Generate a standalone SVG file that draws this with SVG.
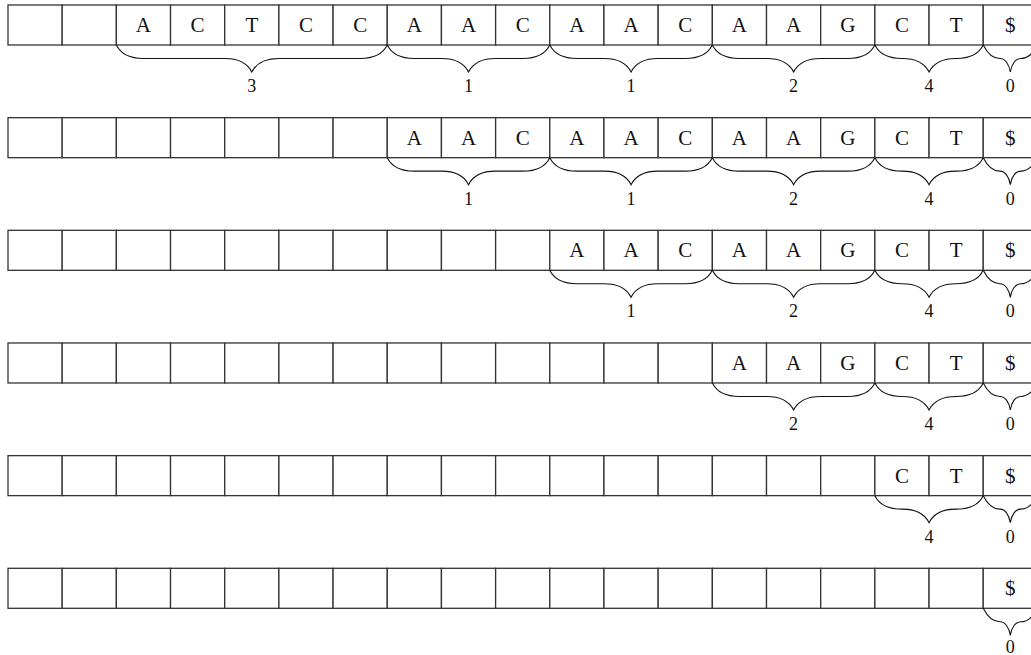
<svg xmlns="http://www.w3.org/2000/svg" xmlns:xlink="http://www.w3.org/1999/xlink" width="1031" height="655" viewBox="0 0 1031 655">
<style>
.cell{fill:#fff;stroke:#333;stroke-width:1.3}
.ch{font-family:"Liberation Serif",serif;font-size:21px;fill:#111;text-anchor:middle}
.num{font-family:"Liberation Serif",serif;font-size:18px;fill:#111;text-anchor:middle}
.br{fill:none;stroke:#111;stroke-width:1.1}
</style>
<defs>
<g id="cells">
<rect class="cell" x="8" y="5" width="54.18" height="40"/>
<rect class="cell" x="62.18" y="5" width="54.18" height="40"/>
<rect class="cell" x="116.36" y="5" width="54.18" height="40"/>
<rect class="cell" x="170.54" y="5" width="54.18" height="40"/>
<rect class="cell" x="224.72" y="5" width="54.18" height="40"/>
<rect class="cell" x="278.9" y="5" width="54.18" height="40"/>
<rect class="cell" x="333.08" y="5" width="54.18" height="40"/>
<rect class="cell" x="387.26" y="5" width="54.18" height="40"/>
<rect class="cell" x="441.44" y="5" width="54.18" height="40"/>
<rect class="cell" x="495.62" y="5" width="54.18" height="40"/>
<rect class="cell" x="549.8" y="5" width="54.18" height="40"/>
<rect class="cell" x="603.98" y="5" width="54.18" height="40"/>
<rect class="cell" x="658.16" y="5" width="54.18" height="40"/>
<rect class="cell" x="712.34" y="5" width="54.18" height="40"/>
<rect class="cell" x="766.52" y="5" width="54.18" height="40"/>
<rect class="cell" x="820.7" y="5" width="54.18" height="40"/>
<rect class="cell" x="874.88" y="5" width="54.18" height="40"/>
<rect class="cell" x="929.06" y="5" width="54.18" height="40"/>
<rect class="cell" x="983.24" y="5" width="54.18" height="40"/>
</g>
<path id="b2" class="br" d="M116.36,45 C120.41,53.1 129.86,58.5 143.36,58.5 L224.81,58.5 C238.31,58.5 247.76,63.9 251.81,72 C255.86,63.9 265.31,58.5 278.81,58.5 L360.26,58.5 C373.76,58.5 383.21,53.1 387.26,45"/>
<path id="b7" class="br" d="M387.26,45 C391.31,53.1 400.76,58.5 414.26,58.5 L441.53,58.5 C455.03,58.5 464.48,63.9 468.53,72 C472.58,63.9 482.03,58.5 495.53,58.5 L522.8,58.5 C536.3,58.5 545.75,53.1 549.8,45"/>
<path id="b10" class="br" d="M549.8,45 C553.85,53.1 563.3,58.5 576.8,58.5 L604.07,58.5 C617.57,58.5 627.02,63.9 631.07,72 C635.12,63.9 644.57,58.5 658.07,58.5 L685.34,58.5 C698.84,58.5 708.29,53.1 712.34,45"/>
<path id="b13" class="br" d="M712.34,45 C716.39,53.1 725.84,58.5 739.34,58.5 L766.61,58.5 C780.11,58.5 789.56,63.9 793.61,72 C797.66,63.9 807.11,58.5 820.61,58.5 L847.88,58.5 C861.38,58.5 870.83,53.1 874.88,45"/>
<path id="b16" class="br" d="M874.88,45 C878.93,53.1 888.38,58.5 901.88,58.5 L902.06,58.5 C915.56,58.5 925.01,63.9 929.06,72 C933.11,63.9 942.56,58.5 956.06,58.5 L956.24,58.5 C969.74,58.5 979.19,53.1 983.24,45"/>
<path id="b18" class="br" d="M983.24,45 C987.29,53.1 993,58.5 1000,58.5 C1005,58.5 1009,63.9 1010.33,72 C1011.6,63.9 1015.6,58.5 1020.6,58.5 C1027.6,58.5 1033.4,53.1 1037.42,45"/>
</defs>

<g id="row1">
<use xlink:href="#cells"/>
<text class="ch" x="143.45" y="32">A</text><text class="ch" x="197.63" y="32">C</text><text class="ch" x="251.81" y="32">T</text><text class="ch" x="305.99" y="32">C</text><text class="ch" x="360.17" y="32">C</text><text class="ch" x="414.35" y="32">A</text><text class="ch" x="468.53" y="32">A</text><text class="ch" x="522.71" y="32">C</text><text class="ch" x="576.89" y="32">A</text><text class="ch" x="631.07" y="32">A</text><text class="ch" x="685.25" y="32">C</text><text class="ch" x="739.43" y="32">A</text><text class="ch" x="793.61" y="32">A</text><text class="ch" x="847.79" y="32">G</text><text class="ch" x="901.97" y="32">C</text><text class="ch" x="956.15" y="32">T</text><text class="ch" x="1010.33" y="32">$</text>
</g>
<g id="row2" transform="translate(0,112.66)">
<use xlink:href="#cells"/>
<text class="ch" x="414.35" y="32">A</text><text class="ch" x="468.53" y="32">A</text><text class="ch" x="522.71" y="32">C</text><text class="ch" x="576.89" y="32">A</text><text class="ch" x="631.07" y="32">A</text><text class="ch" x="685.25" y="32">C</text><text class="ch" x="739.43" y="32">A</text><text class="ch" x="793.61" y="32">A</text><text class="ch" x="847.79" y="32">G</text><text class="ch" x="901.97" y="32">C</text><text class="ch" x="956.15" y="32">T</text><text class="ch" x="1010.33" y="32">$</text>
</g>
<g id="row3" transform="translate(0,225.32)">
<use xlink:href="#cells"/>
<text class="ch" x="576.89" y="32">A</text><text class="ch" x="631.07" y="32">A</text><text class="ch" x="685.25" y="32">C</text><text class="ch" x="739.43" y="32">A</text><text class="ch" x="793.61" y="32">A</text><text class="ch" x="847.79" y="32">G</text><text class="ch" x="901.97" y="32">C</text><text class="ch" x="956.15" y="32">T</text><text class="ch" x="1010.33" y="32">$</text>
</g>
<g id="row4" transform="translate(0,337.98)">
<use xlink:href="#cells"/>
<text class="ch" x="739.43" y="32">A</text><text class="ch" x="793.61" y="32">A</text><text class="ch" x="847.79" y="32">G</text><text class="ch" x="901.97" y="32">C</text><text class="ch" x="956.15" y="32">T</text><text class="ch" x="1010.33" y="32">$</text>
</g>
<g id="row5" transform="translate(0,450.64)">
<use xlink:href="#cells"/>
<text class="ch" x="901.97" y="32">C</text><text class="ch" x="956.15" y="32">T</text><text class="ch" x="1010.33" y="32">$</text>
</g>
<g id="row6" transform="translate(0,563.3)">
<use xlink:href="#cells"/>
<text class="ch" x="1010.33" y="32">$</text>
</g>

<g id="connectors">
<g transform="translate(0,0)">
<use xlink:href="#b2"/><use xlink:href="#b7"/><use xlink:href="#b10"/><use xlink:href="#b13"/><use xlink:href="#b16"/><use xlink:href="#b18"/>
<text class="num" x="251.81" y="92">3</text><text class="num" x="468.53" y="92">1</text><text class="num" x="631.07" y="92">1</text><text class="num" x="793.61" y="92">2</text><text class="num" x="929.06" y="92">4</text><text class="num" x="1010.33" y="92">0</text>
</g>
<g transform="translate(0,112.66)">
<use xlink:href="#b7"/><use xlink:href="#b10"/><use xlink:href="#b13"/><use xlink:href="#b16"/><use xlink:href="#b18"/>
<text class="num" x="468.53" y="92">1</text><text class="num" x="631.07" y="92">1</text><text class="num" x="793.61" y="92">2</text><text class="num" x="929.06" y="92">4</text><text class="num" x="1010.33" y="92">0</text>
</g>
<g transform="translate(0,225.32)">
<use xlink:href="#b10"/><use xlink:href="#b13"/><use xlink:href="#b16"/><use xlink:href="#b18"/>
<text class="num" x="631.07" y="92">1</text><text class="num" x="793.61" y="92">2</text><text class="num" x="929.06" y="92">4</text><text class="num" x="1010.33" y="92">0</text>
</g>
<g transform="translate(0,337.98)">
<use xlink:href="#b13"/><use xlink:href="#b16"/><use xlink:href="#b18"/>
<text class="num" x="793.61" y="92">2</text><text class="num" x="929.06" y="92">4</text><text class="num" x="1010.33" y="92">0</text>
</g>
<g transform="translate(0,450.64)">
<use xlink:href="#b16"/><use xlink:href="#b18"/>
<text class="num" x="929.06" y="92">4</text><text class="num" x="1010.33" y="92">0</text>
</g>
<g transform="translate(0,563.3)">
<use xlink:href="#b18"/>
<text class="num" x="1010.33" y="89.5">0</text>
</g>
</g>
</svg>
